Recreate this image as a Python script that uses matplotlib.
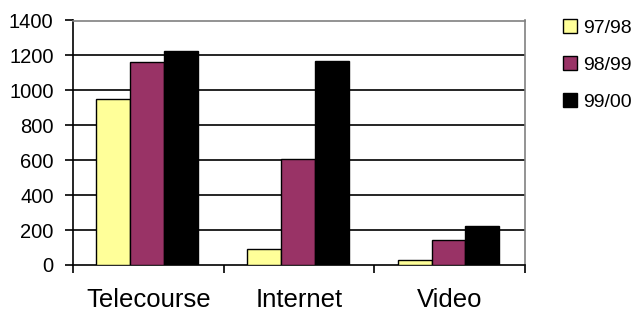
import matplotlib.pyplot as plt
import numpy as np

plt.rcParams['font.family'] = ['Liberation Sans', 'DejaVu Sans']

categories = ['Telecourse', 'Internet', 'Video']
series_names = ['97/98', '98/99', '99/00']
v9798 = [950, 93, 27]
v9899 = [1165, 606, 141]
v9900 = [1225, 1167, 221]
colors = ['#FFFF99', '#993366', '#000000']

fig = plt.figure(figsize=(6.37, 3.15), dpi=100)
ax = fig.add_axes([73 / 637, 1 - 265 / 315, (525 - 73) / 637, (265 - 20.5) / 315])

x = np.arange(len(categories)) + 0.5
w = 0.225
for i, (vals, name) in enumerate(zip([v9798, v9899, v9900], series_names)):
    ax.bar(x - 0.008 + (i - 1) * w, vals, w, color=colors[i], edgecolor='black',
           linewidth=1, label=name, zorder=3)

ax.set_xlim(0, 3)
ax.set_ylim(0, 1400)
ax.set_yticks(range(0, 1401, 200))
for yv in range(200, 1400, 200):
    ax.axhline(yv, color='black', lw=1.2, zorder=1)

ax.set_xticks(x)
ax.set_xticklabels(categories, fontsize=18.5)
ax.set_xticks([0, 1, 2, 3], minor=True)
ax.tick_params(axis='x', which='major', length=0, pad=16.5)
ax.tick_params(axis='x', which='minor', length=6, width=1.2, direction='out')
ax.tick_params(axis='y', length=6, width=1.2, labelsize=14.5, pad=8)

for s in ['left', 'bottom']:
    ax.spines[s].set_color('black')
    ax.spines[s].set_linewidth(1.2)
for s in ['top', 'right']:
    ax.spines[s].set_color('#808080')
    ax.spines[s].set_linewidth(1.2)

ax.legend(loc='upper left', bbox_to_anchor=(563 / 637, 1 - 19 / 315),
          bbox_transform=fig.transFigure, frameon=False, fontsize=14,
          handlelength=0.72, handleheight=0.72, handletextpad=0.3,
          labelspacing=1.0, borderpad=0, borderaxespad=0)

fig.savefig('out.png', dpi=100)
